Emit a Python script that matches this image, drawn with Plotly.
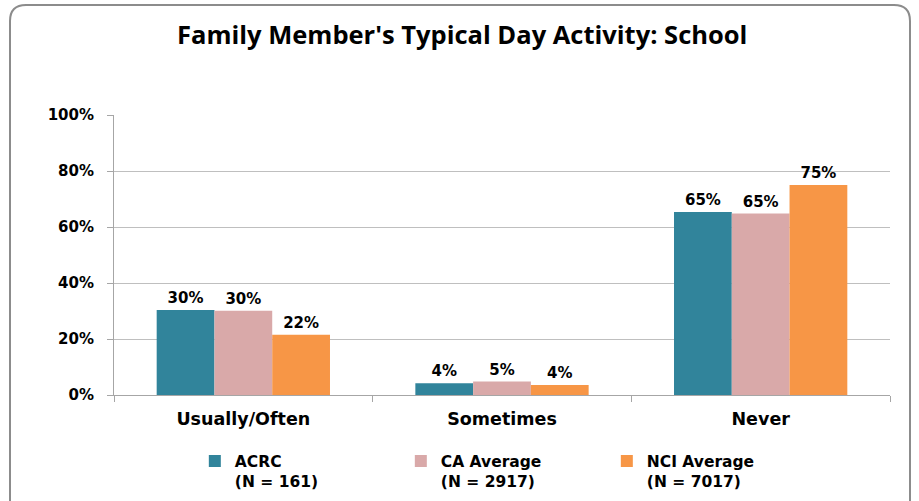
import plotly.graph_objects as go

categories = ['Usually/Often', 'Sometimes', 'Never']
series_names = ['ACRC<br>(N = 161)', 'CA Average<br>(N = 2917)', 'NCI Average<br>(N = 7017)']
acrc = [30.4, 4.2, 65.4]
ca_avg = [30.1, 4.8, 64.8]
nci_avg = [21.5, 3.6, 75.0]
colors = ['#31849B', '#D9A9A9', '#F79646']

W, H = 919, 501
L, R, T, B = 114, 29, 115, 106


def px_to_paper(x, y):
    # pixel coords of the page -> paper coords of the plot area
    return (x - L) / (W - L - R), (H - B - y) / (H - T - B)


def rounded_box(x0, y0, x1, y1, r):
    a = px_to_paper
    p = [a(x0 + r, y0), a(x1 - r, y0), a(x1, y0), a(x1, y0 + r),
         a(x1, y1), a(x0, y1), a(x0, y0 + r), a(x0, y0)]
    return ('M {0[0]},{0[1]} L {1[0]},{1[1]} Q {2[0]},{2[1]} {3[0]},{3[1]} '
            'L {4[0]},{4[1]} L {5[0]},{5[1]} L {6[0]},{6[1]} Q {7[0]},{7[1]} {0[0]},{0[1]}').format(*p)


fig = go.Figure()
for name, vals, c in zip(series_names, [acrc, ca_avg, nci_avg], colors):
    fig.add_trace(go.Bar(
        x=categories, y=vals, name=name, marker_color=c, marker_line_width=0,
        texttemplate='%{y:.0f}%', textposition='outside', cliponaxis=False,
        textfont=dict(family='DejaVu Sans', size=15, color='#000000', weight='bold'),
    ))

fig.update_layout(
    width=W, height=H,
    margin=dict(l=L, r=R, t=T, b=B, autoexpand=False),
    paper_bgcolor='white', plot_bgcolor='white',
    barmode='group', bargap=0.33, bargroupgap=0,
    title=dict(text="<b>Family Member's Typical Day Activity: School</b>",
               x=0.503, xref='container', xanchor='center', y=0.93, yanchor='middle',
               font=dict(family='Open Sans', size=25.5, color='#000000')),
    font=dict(family='DejaVu Sans', color='#000000'),
    legend=dict(orientation='h', xref='container', yref='container', x=0.212, xanchor='left',
                y=0.113, yanchor='top', valign='top', entrywidth=161, entrywidthmode='pixels',
                font=dict(family='DejaVu Sans', size=15.5, weight='bold')),
    showlegend=True,
    shapes=[dict(type='path', xref='paper', yref='paper', path=rounded_box(10, 5, 910, 520, 16),
                 line=dict(color='#8C8C8C', width=2), fillcolor='rgba(0,0,0,0)', layer='above')],
)
fig.update_yaxes(range=[0, 100], dtick=20, ticksuffix='%', showgrid=True, gridcolor='#BFBFBF',
                 showline=True, linecolor='#A6A6A6', ticks='outside', ticklen=6, tickcolor='#A6A6A6',
                 tickfont=dict(family='DejaVu Sans', size=15, weight='bold'), zeroline=False,
                 ticklabelstandoff=10, automargin=False)
fig.update_xaxes(showline=True, linecolor='#A6A6A6', ticks='outside', tickson='boundaries', ticklen=6,
                 tickcolor='#A6A6A6', tickfont=dict(family='DejaVu Sans', size=17.5, weight='bold'),
                 ticklabelstandoff=8, automargin=False)

# drop the default 8px body margin so the figure sits at the window's corner
fig.write_html('out.html', config={'displayModeBar': False},
               post_script="document.body.style.margin='0';")
